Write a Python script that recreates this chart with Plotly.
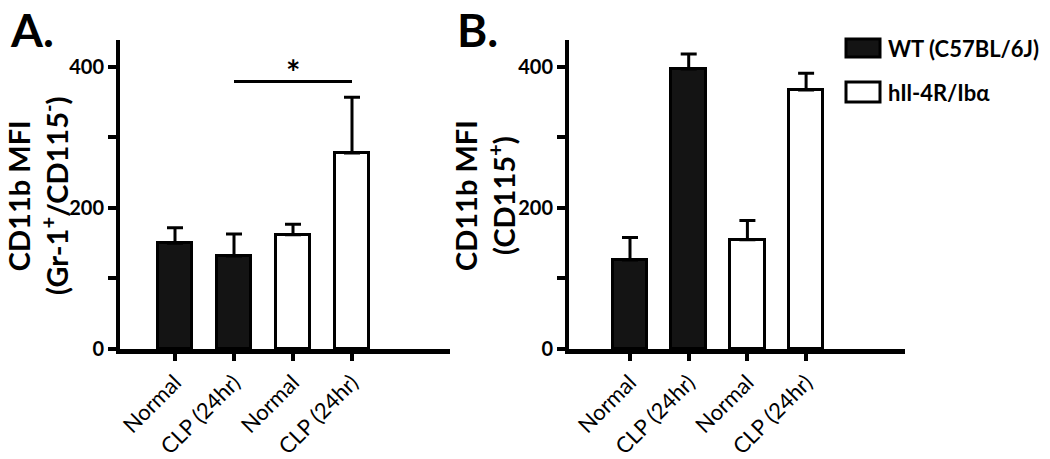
import plotly.graph_objects as go

# ---------------- data ----------------
categories = ["Normal", "CLP (24hr)", "Normal", "CLP (24hr)"]
positions = [0, 1, 2, 3]
group_names = ["WT (C57BL/6J)", "hIl-4R/Ibα"]
group_index = [0, 0, 1, 1]          # which group each bar belongs to

a_mean = [150, 132, 162, 278]
a_err = [22, 31, 15, 79]
b_mean = [126, 397, 155, 367]
b_err = [32, 21, 27, 24]

y_ticks = [0, 200, 400]
y_minor_ticks = [100, 300]

a_title = "CD11b MFI<br>(Gr-1<sup>+</sup>/CD115<sup>-</sup>)"
b_title = "CD11b MFI<br>(CD115<sup>+</sup>)"

sig_pair_a = [1, 3]      # bars compared in panel A
sig_level_a = 379
sig_label_a = "*"

# ---------------- styling ----------------
OFF = 8                      # default page margin around the plot div
W, H = 1050 - OFF, 459 - OFF
FONT = "Lato"
fills = ["#141414", "#ffffff"]


def px(x):
    return (x - OFF) / W


def py(y):
    return 1 - (y - OFF) / H


fig = go.Figure()


def add_panel(means, errs, xa, ya):
    for g, name in enumerate(group_names):
        xs = [positions[i] for i in range(len(means)) if group_index[i] == g]
        ys = [means[i] for i in range(len(means)) if group_index[i] == g]
        es = [errs[i] for i in range(len(means)) if group_index[i] == g]
        fig.add_trace(go.Bar(
            x=xs, y=ys, name=name, xaxis=xa, yaxis=ya, width=0.59,
            marker=dict(color=fills[g], line=dict(color="black", width=3)),
            error_y=dict(type="data", array=es, arrayminus=[0] * len(es),
                         symmetric=False, thickness=3, width=8, color="black"),
            showlegend=False,
        ))


add_panel(a_mean, a_err, "x", "y")
add_panel(b_mean, b_err, "x2", "y2")

ydom = [py(349), py(40)]
xaxis_common = dict(
    tickvals=positions, ticktext=categories, tickangle=-45,
    ticks="outside", ticklen=7, tickwidth=4, tickcolor="black",
    showline=True, linewidth=5, linecolor="black",
    showgrid=False, zeroline=False, automargin=False,
    tickfont=dict(family=FONT, size=22, color="black"),
)
yaxis_common = dict(
    range=[0, 438], tickvals=y_ticks,
    ticks="outside", ticklen=8, tickwidth=4, tickcolor="black",
    minor=dict(tickvals=y_minor_ticks, ticks="outside", ticklen=8,
               tickwidth=4, tickcolor="black", showgrid=False),
    showline=True, linewidth=4, linecolor="black",
    showgrid=False, zeroline=False, domain=ydom, automargin=False,
    tickfont=dict(family=FONT, size=20, color="black", weight="bold"),
)

fig.update_layout(
    width=W, height=H,
    margin=dict(l=0, r=0, t=0, b=0, autoexpand=False),
    paper_bgcolor="white", plot_bgcolor="white",
    bargap=0,
    xaxis=dict(domain=[px(120), px(450)],
               range=[(120 - 175) / 59, (450 - 175) / 59], anchor="y",
               **xaxis_common),
    xaxis2=dict(domain=[px(569), px(905)],
                range=[(569 - 630) / 58.7, (905 - 630) / 58.7], anchor="y2",
                **xaxis_common),
    yaxis=dict(anchor="x", **yaxis_common),
    yaxis2=dict(anchor="x2", **yaxis_common),
)

# y-axis titles (placed as rotated annotations for exact positioning)
title_font = dict(family=FONT, size=29, color="black", weight="bold")
for text, xc in [(a_title, 37), (b_title, 484)]:
    fig.add_annotation(x=px(xc), y=py(196), xref="paper", yref="paper",
                       text=text, textangle=-90, showarrow=False,
                       xanchor="center", yanchor="middle", font=title_font)

# significance bar in panel A
fig.add_shape(type="line", xref="x", yref="y",
              x0=sig_pair_a[0], x1=sig_pair_a[1], y0=sig_level_a, y1=sig_level_a,
              line=dict(color="black", width=3))
fig.add_annotation(x=sum(sig_pair_a) / 2, y=sig_level_a, xref="x", yref="y",
                   text=sig_label_a, showarrow=False, yanchor="bottom", yshift=-12,
                   font=dict(family=FONT, size=34, color="black", weight="bold"))

# panel letters
fig.add_annotation(x=px(8), y=py(0), xref="paper", yref="paper", text="A.",
                   showarrow=False, xanchor="left", yanchor="top",
                   font=dict(family=FONT, size=46, color="black", weight="bold"))
fig.add_annotation(x=px(455), y=py(0), xref="paper", yref="paper", text="B.",
                   showarrow=False, xanchor="left", yanchor="top",
                   font=dict(family=FONT, size=46, color="black", weight="bold"))

# legend (drawn manually to match the large swatches)
legend_rows = [(39, 57), (82, 102)]
for g, name in enumerate(group_names):
    y0, y1 = legend_rows[g]
    fig.add_shape(type="rect", xref="paper", yref="paper",
                  x0=px(846), x1=px(880), y0=py(y1), y1=py(y0),
                  fillcolor=fills[g], line=dict(color="black", width=3))
    fig.add_annotation(x=px(886), y=py((y0 + y1) / 2), xref="paper", yref="paper",
                       text=name, showarrow=False, xanchor="left", yanchor="middle",
                       font=dict(family=FONT, size=22, color="black", weight="bold"))

fig.write_html("out.html")
